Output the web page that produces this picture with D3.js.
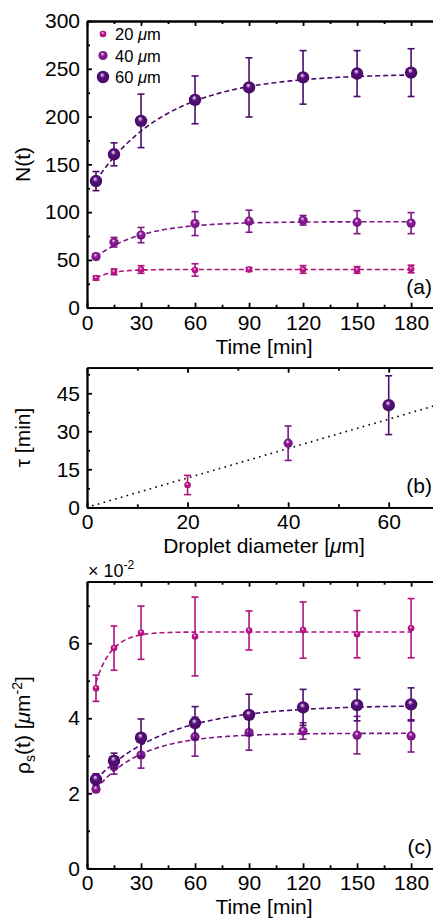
<!DOCTYPE html>
<html>
<head>
<meta charset="utf-8">
<script src="https://cdn.jsdelivr.net/npm/d3@7"></script>
<style>
  body { margin: 0; background: #fff; }
  svg { display: block; font-family: "Liberation Sans", Arial, sans-serif; }
  .axis path, .axis line { stroke: #000; stroke-width: 1.8; }
  .axis text { font-size: 21px; fill: #000; font-family: "Liberation Sans", Arial, sans-serif; }
</style>
</head>
<body>
<div id="content"></div>
<script>
// droplet sizes and the measurement times
const sizes = ["20", "40", "60"];
const times = [5, 15, 30, 60, 90, 120, 150, 180];

// (a) number of objects N(t)
const countMean20 = [31, 37.5, 40, 39.5, 40, 40, 39.5, 40.5];
const countErr20 = [2, 3, 4, 6.5, 2, 4, 3.5, 4];
const countMean40 = [53.5, 68.5, 76, 88, 90.5, 91.5, 89.5, 88.5];
const countErr40 = [3, 5, 8, 12.5, 11.5, 5, 12, 11];
const countMean60 = [132.5, 160.5, 195.5, 217.5, 230.5, 241, 245, 246];
const countErr60 = [10, 12, 28, 25, 31, 28, 24, 25];
// exponential fits  N = plateau - amp * exp(-t / tau)
const countFitPlateau = [40, 90, 245];
const countFitAmp = [15.9, 45.1, 126.8];

// (b) time constant vs droplet diameter
const diameters = [20, 40, 60];
const tauMean = [8.8, 25.3, 40.3];
const tauErr = [3.8, 6.8, 11.6];
const tauSlope = 0.58;

// (c) surface density, units of 1e-2 um^-2
const densMean20 = [4.8, 5.87, 6.28, 6.18, 6.34, 6.35, 6.24, 6.4];
const densErr20 = [0.35, 0.59, 0.71, 1.05, 0.52, 0.75, 0.63, 0.79];
const densMean40 = [2.11, 2.71, 3.02, 3.51, 3.62, 3.66, 3.55, 3.53];
const densErr40 = [0.07, 0.2, 0.35, 0.52, 0.47, 0.22, 0.5, 0.43];
const densMean60 = [2.37, 2.87, 3.48, 3.87, 4.09, 4.29, 4.35, 4.37];
const densErr60 = [0.15, 0.2, 0.5, 0.44, 0.55, 0.48, 0.42, 0.44];
const densFitPlateau = [6.3, 3.6, 4.35];
const densFitAmp = [2.36, 1.82, 2.24];

const timeTicks = [0, 30, 60, 90, 120, 150, 180];
const timeMinor = [15, 45, 75, 105, 135, 165];

// styling
const colors = ["#b0127f", "#7c1686", "#4b0c6b"];
const radii = [3.3, 4.6, 6.2];
const W = 433, H = 921;
const left = 87, right = 439;

let svg = d3.select("#content").append("svg")
    .attr("width", W).attr("height", H);

let defs = svg.append("defs");
colors.forEach((c, i) => {
    let grad = defs.append("radialGradient")
        .attr("id", "ball" + i)
        .attr("cx", "50%").attr("cy", "50%").attr("r", "55%")
        .attr("fx", "42%").attr("fy", "30%");
    grad.append("stop").attr("offset", "0%").attr("stop-color", "#f4eaf4");
    grad.append("stop").attr("offset", "38%").attr("stop-color", d3.color(c).brighter(0.4));
    grad.append("stop").attr("offset", "75%").attr("stop-color", c);
    grad.append("stop").attr("offset", "100%").attr("stop-color", d3.color(c).darker(0.6));
});

function frame(x, y, opt) {
    let g = svg.append("g");
    let [y0, y1] = y.range();
    let [x0, x1] = x.range();

    g.append("g").attr("class", "axis").attr("transform", `translate(0,${y0})`)
        .call(d3.axisBottom(x).tickValues(opt.xTicks).tickSize(-5).tickSizeOuter(0).tickPadding(7));
    g.append("g").attr("class", "axis").attr("transform", `translate(0,${y0})`)
        .call(d3.axisBottom(x).tickValues(opt.xMinor).tickSize(-3).tickSizeOuter(0).tickFormat(""));
    g.append("g").attr("class", "axis").attr("transform", `translate(0,${y1})`)
        .call(d3.axisTop(x).tickValues(opt.xTicks).tickSize(-5).tickSizeOuter(0).tickFormat(""));
    g.append("g").attr("class", "axis").attr("transform", `translate(0,${y1})`)
        .call(d3.axisTop(x).tickValues(opt.xMinor).tickSize(-3).tickSizeOuter(0).tickFormat(""));

    g.append("g").attr("class", "axis").attr("transform", `translate(${x0},0)`)
        .call(d3.axisLeft(y).tickValues(opt.yTicks).tickSize(-5).tickSizeOuter(0).tickPadding(7));
    g.append("g").attr("class", "axis").attr("transform", `translate(${x0},0)`)
        .call(d3.axisLeft(y).tickValues(opt.yMinor).tickSize(-3).tickSizeOuter(0).tickFormat(""));
    g.append("g").attr("class", "axis").attr("transform", `translate(${x1},0)`)
        .call(d3.axisRight(y).tickValues(opt.yTicks).tickSize(-5).tickSizeOuter(0).tickFormat(""));

    g.selectAll(".axis .domain").attr("stroke-width", 1.8);

    // x title
    let xt = g.append("text")
        .attr("x", 264).attr("y", y0 + 46)
        .attr("text-anchor", "middle").style("font-size", "21px");
    opt.xTitle(xt);
    // panel letter
    g.append("text")
        .attr("x", 432).attr("y", y0 - 14)
        .attr("text-anchor", "end").style("font-size", "21px")
        .text(opt.tag);
    return g;
}

function errorMarks(g, x, y, xs, means, errs, i) {
    let pts = xs.map((v, k) => ({ x: v, m: means[k], e: errs[k] }));
    let eb = g.append("g").attr("stroke", colors[i]).attr("stroke-width", 1.6);
    eb.selectAll("line.bar").data(pts).enter().append("line")
        .attr("x1", d => x(d.x)).attr("x2", d => x(d.x))
        .attr("y1", d => y(d.m - d.e)).attr("y2", d => y(d.m + d.e));
    eb.selectAll("line.top").data(pts).enter().append("line")
        .attr("x1", d => x(d.x) - 3.5).attr("x2", d => x(d.x) + 3.5)
        .attr("y1", d => y(d.m + d.e)).attr("y2", d => y(d.m + d.e));
    eb.selectAll("line.bot").data(pts).enter().append("line")
        .attr("x1", d => x(d.x) - 3.5).attr("x2", d => x(d.x) + 3.5)
        .attr("y1", d => y(d.m - d.e)).attr("y2", d => y(d.m - d.e));
    return pts;
}

function balls(g, x, y, pts, i) {
    g.append("g").selectAll("circle").data(pts).enter().append("circle")
        .attr("cx", d => x(d.x)).attr("cy", d => y(d.m))
        .attr("r", radii[i])
        .attr("fill", `url(#ball${i})`);
}

function fitCurve(g, x, y, plateau, amp, tau, i) {
    let ts = d3.range(5, 180.5, 1);
    let line = d3.line().x(t => x(t)).y(t => y(plateau - amp * Math.exp(-t / tau)));
    g.append("path").datum(ts)
        .attr("d", line)
        .attr("fill", "none")
        .attr("stroke", colors[i])
        .attr("stroke-width", 1.6)
        .attr("stroke-dasharray", "5,3");
}

function yTitle(g, cy, build) {
    let t = g.append("text")
        .attr("transform", `translate(30,${cy}) rotate(-90)`)
        .attr("text-anchor", "middle").style("font-size", "21px");
    build(t);
}

function microns(t, before, after) {
    t.append("tspan").text(before);
    t.append("tspan").style("font-style", "italic").text("\u03bc");
    t.append("tspan").text("m" + after);
}

// ---------- panel (a)
{
    let x = d3.scaleLinear().domain([0, 195.5]).range([left, right]);
    let y = d3.scaleLinear().domain([0, 300]).range([307.7, 21]);
    let g = frame(x, y, {
        xTicks: timeTicks, xMinor: timeMinor,
        yTicks: [0, 50, 100, 150, 200, 250, 300], yMinor: [25, 75, 125, 175, 225, 275],
        xTitle: t => t.text("Time [min]"), tag: "(a)"
    });
    yTitle(g, 164.5, t => t.text("N(t)"));

    let means = [countMean20, countMean40, countMean60];
    let errs = [countErr20, countErr40, countErr60];
    means.forEach((m, i) => fitCurve(g, x, y, countFitPlateau[i], countFitAmp[i], tauMean[i], i));
    means.forEach((m, i) => {
        let pts = errorMarks(g, x, y, times, m, errs[i], i);
        balls(g, x, y, pts, i);
    });

    // legend
    let leg = g.append("g");
    sizes.forEach((s, i) => {
        let cy = 34 + i * 21.5;
        leg.append("circle").attr("cx", 103).attr("cy", cy).attr("r", radii[i])
            .attr("fill", `url(#ball${i})`);
        let t = leg.append("text").attr("x", 115).attr("y", cy + 6).style("font-size", "16.5px");
        microns(t, s + " ", "");
    });
}

// ---------- panel (b)
{
    let x = d3.scaleLinear().domain([0, 70]).range([left, right]);
    let y = d3.scaleLinear().domain([0, 55.1]).range([507.3, 367.7]);
    let g = frame(x, y, {
        xTicks: [0, 20, 40, 60], xMinor: [10, 30, 50],
        yTicks: [0, 15, 30, 45], yMinor: [7.5, 22.5, 37.5, 52.5],
        xTitle: t => microns(t, "Droplet diameter [", "]"), tag: "(b)"
    });
    yTitle(g, 437.5, t => t.text("\u03c4 [min]"));

    g.append("line")
        .attr("x1", x(1)).attr("y1", y(tauSlope * 1))
        .attr("x2", x(70)).attr("y2", y(tauSlope * 70))
        .attr("stroke", "#000").attr("stroke-width", 1.6)
        .attr("stroke-dasharray", "1.6,4.4");

    diameters.forEach((d, i) => {
        let pts = errorMarks(g, x, y, [d], [tauMean[i]], [tauErr[i]], i);
        balls(g, x, y, pts, i);
    });
}

// ---------- panel (c)
{
    let x = d3.scaleLinear().domain([0, 195.5]).range([left, right]);
    let y = d3.scaleLinear().domain([0, 7.64]).range([868.3, 581.7]);
    let g = frame(x, y, {
        xTicks: timeTicks, xMinor: timeMinor,
        yTicks: [0, 2, 4, 6], yMinor: [1, 3, 5, 7],
        xTitle: t => t.text("Time [min]"), tag: "(c)"
    });
    yTitle(g, 725, t => {
        t.append("tspan").text("\u03c1");
        t.append("tspan").attr("dy", 5).style("font-size", "14px").text("s");
        t.append("tspan").attr("dy", -5).text("(t) [");
        t.append("tspan").style("font-style", "italic").text("\u03bc");
        t.append("tspan").text("m");
        t.append("tspan").attr("dy", -8).style("font-size", "14px").text("-2");
        t.append("tspan").attr("dy", 8).text("]");
    });

    let mult = g.append("text").attr("x", 88).attr("y", 577.3).style("font-size", "18px");
    mult.append("tspan").text("\u00d7 10");
    mult.append("tspan").attr("dy", -8).style("font-size", "12px").text("-2");

    let means = [densMean20, densMean40, densMean60];
    let errs = [densErr20, densErr40, densErr60];
    means.forEach((m, i) => fitCurve(g, x, y, densFitPlateau[i], densFitAmp[i], tauMean[i], i));
    means.forEach((m, i) => {
        let pts = errorMarks(g, x, y, times, m, errs[i], i);
        balls(g, x, y, pts, i);
    });
}
</script>
</body>
</html>
